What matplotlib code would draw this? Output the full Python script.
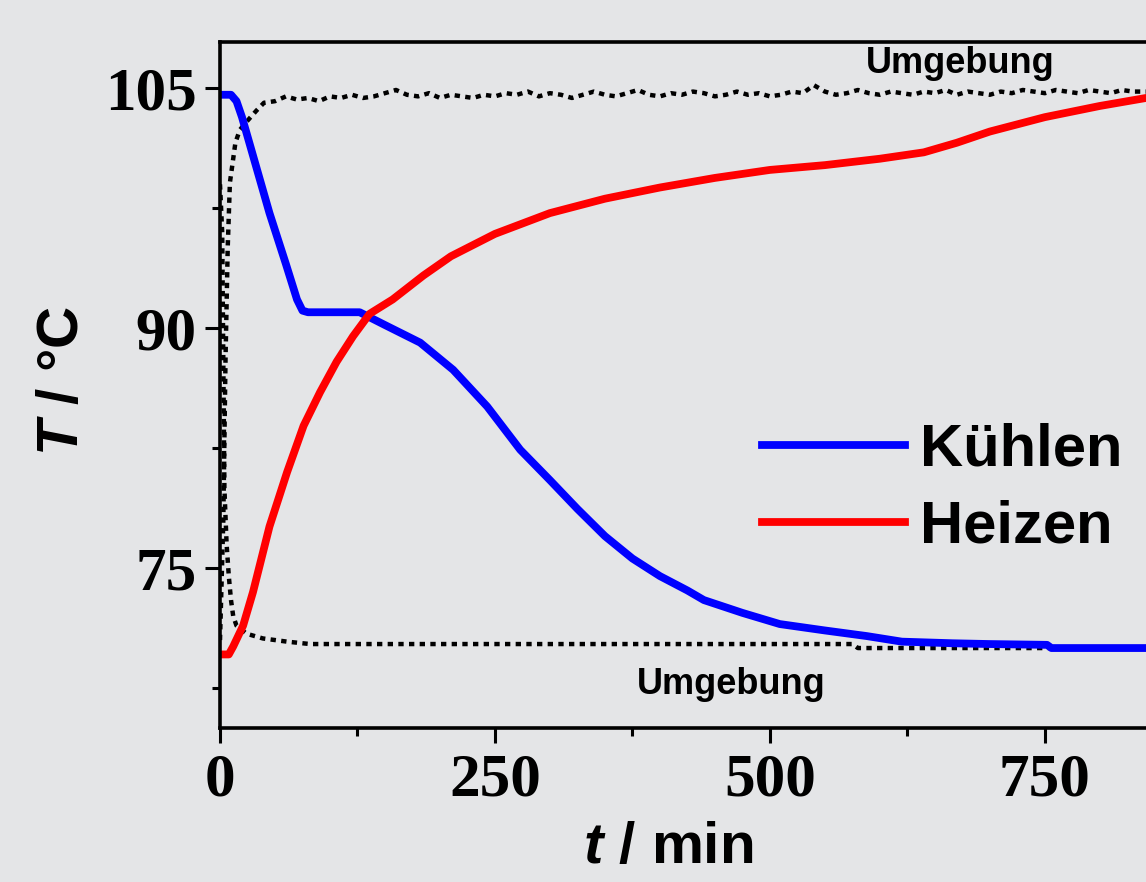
import matplotlib
matplotlib.use('Agg')
import matplotlib.pyplot as plt
from matplotlib.ticker import MultipleLocator

# Kühlen (cooling) run
cool_t = [0, 10, 15, 20, 30, 45, 60, 70, 75, 80, 127, 150, 182, 212, 243, 273,
          300, 325, 350, 375, 400, 425, 440, 475, 509, 550, 588, 620, 666, 700,
          752, 756, 842]
cool_T = [104.6, 104.6, 104.2, 103.2, 100.8, 97.2, 94.0, 91.8, 91.1, 91.0, 91.0,
          90.2, 89.1, 87.4, 85.1, 82.4, 80.5, 78.7, 77.0, 75.6, 74.5, 73.6, 73.0,
          72.2, 71.5, 71.1, 70.75, 70.4, 70.3, 70.25, 70.2, 70.0, 70.0]

# Heizen (heating) run
heat_t = [0, 8, 12, 21, 30, 45, 61, 76, 91, 106, 121, 136, 157, 185, 210, 250,
          300, 350, 400, 450, 500, 550, 600, 640, 670, 700, 750, 800, 842]
heat_T = [69.6, 69.6, 70.1, 71.4, 73.5, 77.6, 81.0, 83.9, 86.0, 87.9, 89.5,
          90.9, 91.8, 93.3, 94.5, 95.9, 97.2, 98.1, 98.8, 99.4, 99.9, 100.2,
          100.6, 101.0, 101.6, 102.3, 103.2, 103.9, 104.4]

# ambient (Umgebung) during heating run
amb_hi_t = [0, 3, 5, 7, 9, 14, 18, 24, 33, 40,
            50, 60, 70, 80, 90, 100, 110, 120, 130, 140,
            150, 160, 170, 180, 190, 200, 210, 220, 230, 240,
            250, 260, 270, 280, 290, 300, 310, 320, 330, 340,
            350, 360, 370, 380, 390, 400, 410, 420, 430, 440,
            450, 460, 470, 480, 490, 500, 510, 520, 530, 540,
            550, 560, 570, 580, 590, 600, 610, 620, 630, 640,
            650, 660, 670, 680, 690, 700, 710, 720, 730, 740,
            750, 760, 770, 780, 790, 800, 810, 820, 830, 842]
amb_hi_T = [70.5, 78.0, 88.0, 95.0, 99.1, 101.6, 102.4, 102.9, 103.6, 104.1,
            104.2, 104.5, 104.3, 104.4, 104.2, 104.5, 104.4, 104.6, 104.4, 104.5,
            104.7, 104.9, 104.6, 104.5, 104.7, 104.4, 104.6, 104.5, 104.4, 104.6,
            104.5, 104.7, 104.6, 104.8, 104.5, 104.7, 104.6, 104.4, 104.6, 104.8,
            104.6, 104.5, 104.7, 104.9, 104.6, 104.5, 104.7, 104.6, 104.8, 104.7,
            104.5, 104.6, 104.8, 104.6, 104.7, 104.5, 104.6, 104.8, 104.7, 105.2,
            104.8, 104.6, 104.7, 104.9, 104.7, 104.6, 104.8, 104.7, 104.6, 104.8,
            104.7, 104.9, 104.6, 104.8, 104.7, 104.6, 104.8, 104.7, 104.9, 104.8,
            104.7, 104.9, 104.8, 104.7, 104.9, 104.8, 104.7, 104.9, 104.8, 104.8]

# ambient (Umgebung) during cooling run
amb_lo_t = [0, 2, 3, 4, 6, 8, 10, 12, 15, 24, 39, 61, 82, 575, 580, 842]
amb_lo_T = [99.0, 96.0, 88.0, 80.0, 76.5, 74.5, 73.0, 72.0, 71.4, 70.9, 70.6,
            70.4, 70.25, 70.25, 70.0, 70.0]

x_ticks = [0, 250, 500, 750]
y_ticks = [75, 90, 105]

BG = "#e4e5e7"
TICK_FONT = {"family": "Liberation Serif", "weight": "bold", "size": 44}
SANS = "Liberation Sans"

plt.rcParams["mathtext.fontset"] = "custom"
plt.rcParams["mathtext.bfit"] = "Liberation Sans:italic:bold"
plt.rcParams["mathtext.rm"] = "Liberation Sans:bold"

fig = plt.figure(figsize=(11.46, 8.82), dpi=100, facecolor=BG)
ax = fig.add_axes([220 / 1146, 1 - 728 / 882, 1 - 220 / 1146, (728 - 42) / 882])
ax.set_facecolor(BG)

dots = dict(color="black", linewidth=3.2, linestyle=(0, (1.2, 1.2)))
ax.plot(amb_hi_t, amb_hi_T, **dots)
ax.plot(amb_lo_t, amb_lo_T, **dots)
ax.plot(cool_t, cool_T, color="#0000ff", linewidth=5.6, label="Kühlen")
ax.plot(heat_t, heat_T, color="#ff0000", linewidth=5.6, label="Heizen")

ax.set_xlim(0, 842)
ax.set_ylim(65, 107.9)
ax.set_xticks(x_ticks)
ax.set_yticks(y_ticks)
ax.xaxis.set_minor_locator(MultipleLocator(125))
ax.yaxis.set_minor_locator(MultipleLocator(7.5))
ax.set_xticklabels([str(v) for v in x_ticks], fontdict=TICK_FONT)
ax.set_yticklabels([str(v) for v in y_ticks], fontdict=TICK_FONT)
ax.tick_params(which="major", direction="out", length=11, width=2.2, pad=7)
ax.tick_params(which="minor", direction="out", length=6, width=2.2)
ax.tick_params(axis="y", which="major", pad=6)

for side in ["left", "bottom", "top"]:
    ax.spines[side].set_linewidth(2.6)
ax.spines["right"].set_visible(False)

ax.set_xlabel(r"$\mathbfit{t}$ / min", fontsize=42, fontweight="bold", family=SANS)
ax.set_ylabel(r"$\mathbfit{T}$ / °C", fontsize=42, fontweight="bold", family=SANS)
ax.xaxis.set_label_coords((668 - 220) / 926, -0.135)
ax.yaxis.set_label_coords((90 - 220) / 926, 0.506)

ax.text(673, 106.55, "Umgebung", ha="center", va="center", fontsize=26,
        fontweight="bold", family=SANS)
ax.text(465, 67.7, "Umgebung", ha="center", va="center", fontsize=26,
        fontweight="bold", family=SANS)

ax.legend(loc="upper left", bbox_to_anchor=((762 - 220) / 926, 0.445),
          frameon=False, handlelength=2.4, handletextpad=0.25, borderpad=0,
          borderaxespad=0, labelspacing=0.37,
          prop={"family": SANS, "weight": "bold", "size": 43})

fig.savefig("out.png", dpi=100, facecolor=BG)
